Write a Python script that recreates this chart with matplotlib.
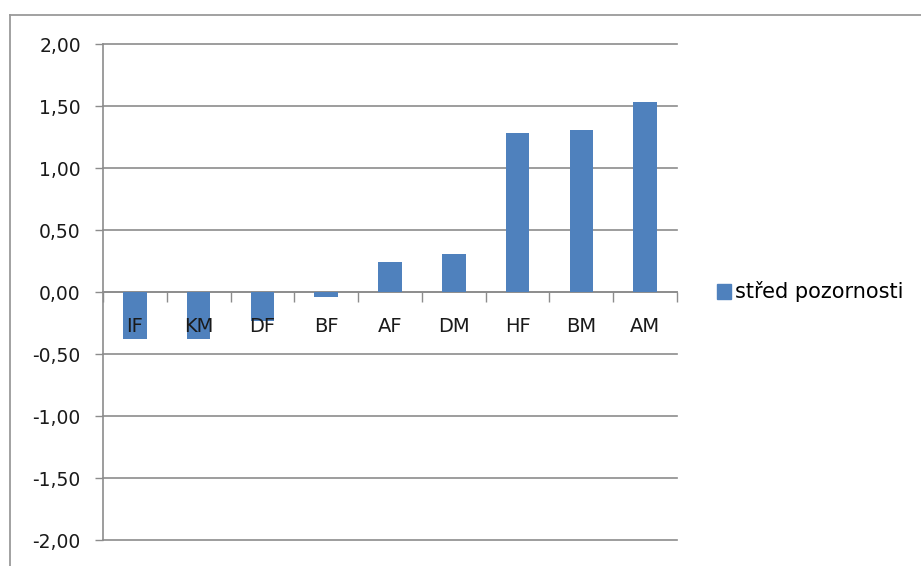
import matplotlib
matplotlib.use('Agg')
import matplotlib.pyplot as plt
from matplotlib.lines import Line2D
from matplotlib.patches import Patch
import numpy as np

categories = ['IF', 'KM', 'DF', 'BF', 'AF', 'DM', 'HF', 'BM', 'AM']
values = [-0.38, -0.38, -0.23, -0.04, 0.24, 0.31, 1.28, 1.31, 1.53]
series_name = 'střed pozornosti'
yticks = [-2.0, -1.5, -1.0, -0.5, 0.0, 0.5, 1.0, 1.5, 2.0]

plt.rcParams['font.family'] = ['DejaVu Sans']

bar_color = '#4F81BD'
line_color = '#8c8c8c'
text_color = '#1a1a1a'
fs = 13.5

fig = plt.figure(figsize=(9.21, 5.66), dpi=100)
ax = fig.add_axes([103 / 921, 1 - 540 / 566, 574 / 921, 496 / 566])

x = np.arange(len(categories))
ax.bar(x, values, width=0.37, color=bar_color, zorder=3)

ax.set_xlim(-0.5, len(categories) - 0.5)
ax.set_ylim(-2, 2)
ax.set_yticks(yticks)
ax.set_yticklabels([f"{v:.2f}".replace('.', ',') for v in yticks],
                   fontsize=fs, color=text_color)
ax.yaxis.grid(True, color=line_color, linewidth=1.2)
for gl in ax.yaxis.get_gridlines():
    gl.set_clip_on(False)
ax.tick_params(axis='y', length=6, width=1, color=line_color, pad=10)
ax.yaxis.set_zorder(0.5)

# category axis sits on zero, ticks between categories
ax.spines['bottom'].set_position(('data', 0))
ax.spines['bottom'].set_color(line_color)
ax.spines['bottom'].set_linewidth(1.2)
ax.spines['left'].set_color(line_color)
ax.spines['left'].set_linewidth(1.2)
ax.spines['top'].set_visible(False)
ax.spines['right'].set_visible(False)
ax.set_xticks(x)
ax.set_xticklabels(categories, fontsize=14, color=text_color)
ax.set_xticks(np.arange(len(categories) + 1) - 0.5, minor=True)
ax.tick_params(axis='x', which='major', length=0, pad=18)
ax.tick_params(axis='x', which='minor', length=7, width=1, color=line_color,
               direction='out')
ax.xaxis.set_zorder(4)

ax.legend(handles=[Patch(color=bar_color, label=series_name)],
          loc='center left', bbox_to_anchor=(1.055, 0.5), frameon=False,
          fontsize=15, handlelength=0.7, handleheight=0.7,
          handletextpad=0.15, borderaxespad=0)

# chart-area border
fig.add_artist(Line2D([10 / 921, 10 / 921], [0, 1 - 15 / 566],
                      color='#9a9a9a', linewidth=1.3))
fig.add_artist(Line2D([10 / 921, 1], [1 - 15 / 566, 1 - 15 / 566],
                      color='#9a9a9a', linewidth=1.3))

fig.savefig('out.png', dpi=100)
